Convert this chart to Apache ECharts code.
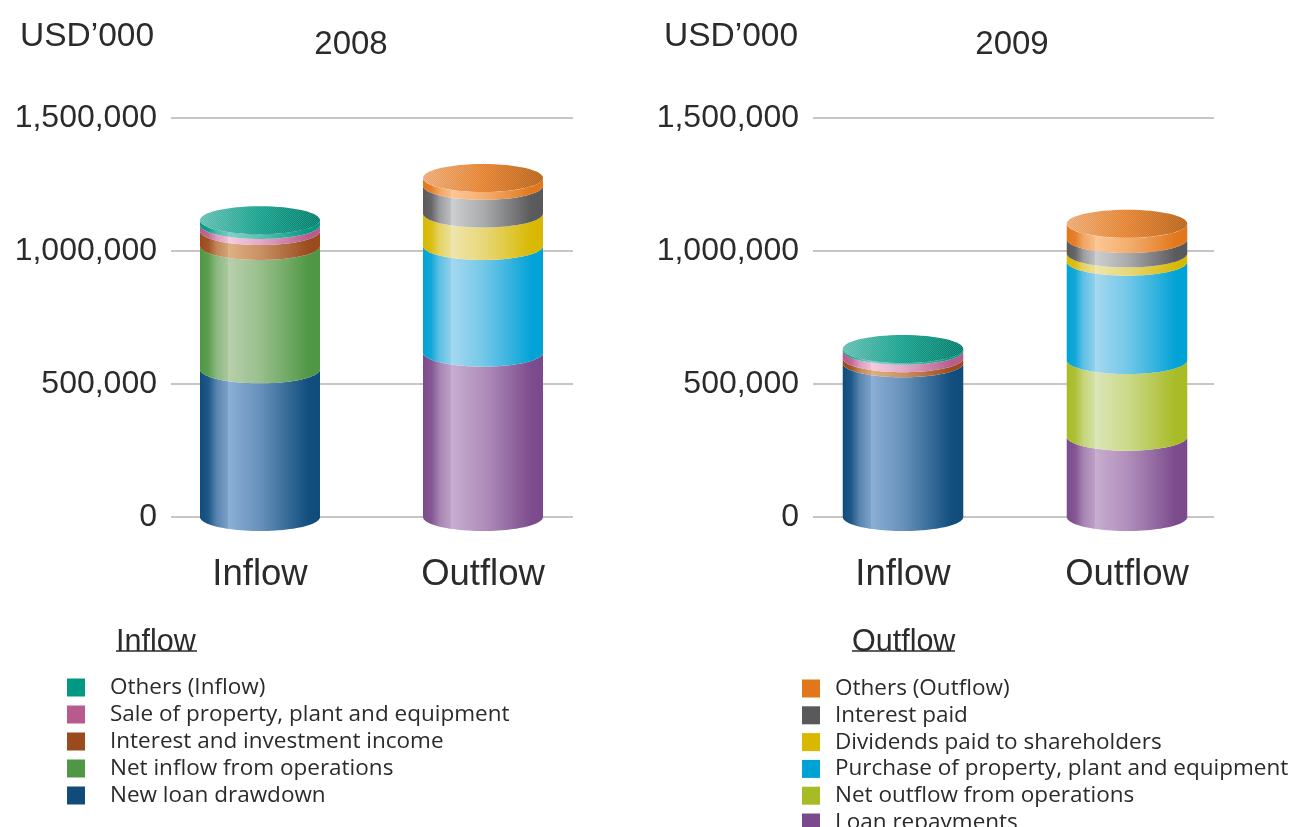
<!DOCTYPE html>
<html>
<head>
<meta charset="utf-8">
<style>html,body{margin:0;padding:0;background:#fff}#chart{width:1294px;height:827px}</style>
<script src="https://cdn.jsdelivr.net/npm/echarts@6/dist/echarts.min.js"></script>
</head>
<body>
<div id="chart"></div>
<script>
// Cash flow by year, in USD'000
const flowCategories = ['Inflow', 'Outflow'];
const years = ['2008', '2009'];
const inflowNames = ['New loan drawdown', 'Net inflow from operations', 'Interest and investment income', 'Sale of property, plant and equipment', 'Others (Inflow)'];
const outflowNames = ['Loan repayments', 'Net outflow from operations', 'Purchase of property, plant and equipment', 'Dividends paid to shareholders', 'Interest paid', 'Others (Outflow)'];
const inflowColors = ['#0f4c7c', '#4f9744', '#9a4a1c', '#b85a8c', '#009882'];
const outflowColors = ['#7b4a8c', '#a8bb24', '#00a2d6', '#d8b800', '#59595b', '#e2761b'];
const inflowLights = ['#8cafd6', '#b8d0ac', '#ddb184', '#f7cce2', '#86d0c5'];
const outflowLights = ['#c8aed0', '#dbe7b8', '#a6d8f0', '#efe6ae', '#cdcfd2', '#fcc897'];
const inflow2008 = [555000, 464000, 56000, 23000, 18000];
const outflow2008 = [618000, 0, 401000, 122000, 104000, 29000];
const inflow2009 = [578000, 0, 19000, 28000, 7000];
const outflow2009 = [302000, 288000, 370000, 31000, 54000, 57000];

const panels = [
  { inflow: inflow2008, outflow: outflow2008, lineLeft: 171, lineWidth: 402, barLeft: 148.5, barWidth: 446, title: 351, unit: 20 },
  { inflow: inflow2009, outflow: outflow2009, lineLeft: 813, lineWidth: 401, barLeft: 791, barWidth: 448, title: 1012, unit: 664 }
];
const plotTop = 118, plotHeight = 399, barRatio = 120 / 223, capRadiusY = 14;
const bigFont = 'Liberation Sans', smallFont = 'Open Sans', ink = '#2b2b2b';

function rgb(hex) {
  const n = parseInt(hex.slice(1), 16);
  return [n >> 16, (n >> 8) & 255, n & 255];
}
function mix(hex, target, t) {
  const a = rgb(hex), b = rgb(target);
  return 'rgb(' + a.map((v, i) => Math.round(v + (b[i] - v) * t)).join(',') + ')';
}
// Lit cylinder side: dark rims, a soft highlight left of centre
function sideFill(color, light) {
  const stops = [[0, 0], [0.07, 0.12], [0.14, 0.58], [0.232, 0.86], [0.238, 1], [0.3, 0.92], [0.5, 0.7], [0.74, 0.3], [0.9, 0.02], [1, 0]];
  return { type: 'linear', x: 0, y: 0, x2: 1, y2: 0, colorStops: stops.map(s => ({ offset: s[0], color: mix(color, light, s[1]) })) };
}
function capFill(color) {
  return { type: 'linear', x: 0, y: 0, x2: 1, y2: 0.25, colorStops: [
    { offset: 0, color: mix(color, '#ffffff', 0.38) },
    { offset: 0.5, color: mix(color, '#ffffff', 0.08) },
    { offset: 1, color: mix(color, '#000000', 0.18) }
  ] };
}
// Fine hatch laid over the cylinder lids
const hatchCanvas = document.createElement('canvas');
hatchCanvas.width = hatchCanvas.height = 2;
(function () {
  const g = hatchCanvas.getContext('2d');
  g.fillStyle = 'rgba(255,255,255,0.14)';
  g.fillRect(0, 0, 1, 1);
  g.fillRect(1, 1, 1, 1);
})();

function renderSegment(color, light) {
  return function (params, api) {
    const cx = api.coord([api.value(0), 0])[0];
    const yBase = api.coord([0, api.value(1)])[1];
    const yTop = api.coord([0, api.value(2)])[1];
    const rx = api.size([1, 0])[0] * barRatio / 2;
    const pts = [];
    const steps = 48;
    for (let i = 0; i <= steps; i++) {
      const a = Math.PI * i / steps;
      pts.push([cx - rx * Math.cos(a), yTop + capRadiusY * Math.sin(a)]);
    }
    for (let i = steps; i >= 0; i--) {
      const a = Math.PI * i / steps;
      pts.push([cx - rx * Math.cos(a), yBase + capRadiusY * Math.sin(a)]);
    }
    const children = [{ type: 'polygon', shape: { points: pts }, style: { fill: sideFill(color, light) } }];
    if (api.value(3) === 1) {
      const lid = { cx: cx, cy: yTop, rx: rx, ry: capRadiusY };
      children.push({ type: 'ellipse', shape: lid, style: { fill: capFill(color) } });
      children.push({ type: 'ellipse', shape: lid, style: { fill: { image: hatchCanvas, repeat: 'repeat' } } });
    }
    return { type: 'group', children: children };
  };
}

const grid = [], xAxis = [], yAxis = [], series = [], title = [];
panels.forEach((p, i) => {
  const lineGrid = i * 2, barGrid = i * 2 + 1;
  grid.push({ left: p.lineLeft, width: p.lineWidth, top: plotTop, height: plotHeight });
  grid.push({ left: p.barLeft, width: p.barWidth, top: plotTop, height: plotHeight });
  xAxis.push({ gridIndex: lineGrid, type: 'category', data: flowCategories, show: false });
  xAxis.push({
    gridIndex: barGrid, type: 'category', data: flowCategories,
    axisLine: { show: false }, axisTick: { show: false },
    axisLabel: { fontFamily: bigFont, fontSize: 36.5, color: ink, margin: 39 }
  });
  yAxis.push({
    gridIndex: lineGrid, type: 'value', min: 0, max: 1500000, interval: 500000,
    axisLine: { show: false }, axisTick: { show: false },
    axisLabel: { fontFamily: bigFont, fontSize: 32, color: ink, margin: 14, padding: [4, 0, 0, 0], formatter: v => v.toLocaleString('en-US') },
    splitLine: { lineStyle: { color: '#c6c6c6', width: 2 } }
  });
  yAxis.push({ gridIndex: barGrid, type: 'value', min: 0, max: 1500000, show: false });
  [[p.inflow, inflowNames, inflowColors, inflowLights, 0], [p.outflow, outflowNames, outflowColors, outflowLights, 1]].forEach(set => {
    const values = set[0];
    const topIndex = values.reduce((last, v, k) => (v > 0 ? k : last), 0);
    let base = 0;
    values.forEach((v, k) => {
      const color = set[2][k];
      series.push({
        type: 'custom', name: set[1][k], xAxisIndex: barGrid, yAxisIndex: barGrid,
        itemStyle: { color: color }, z: 3, silent: true,
        encode: { x: 0, y: 2 },
        renderItem: renderSegment(color, set[3][k]),
        data: v > 0 ? [[set[4], base, base + v, k === topIndex ? 1 : 0]] : []
      });
      base += v;
    });
  });
  title.push({ text: 'USD\u2019000', left: p.unit, top: 20, padding: 0, textStyle: { fontFamily: bigFont, fontSize: 33.5, fontWeight: 'normal', color: ink } });
  title.push({ text: years[i], left: p.title, top: 28, padding: 0, textAlign: 'center', textStyle: { fontFamily: bigFont, fontSize: 33, fontWeight: 'normal', color: ink } });
});
title.push({ text: 'Inflow', left: 116, top: 627, padding: 0, textStyle: { fontFamily: bigFont, fontSize: 30.5, fontWeight: 'normal', color: ink } });
title.push({ text: 'Outflow', left: 852, top: 627, padding: 0, textStyle: { fontFamily: bigFont, fontSize: 30.5, fontWeight: 'normal', color: ink } });

function legendOf(names, left, top, gap, textGap) {
  return {
    orient: 'vertical', left: left, top: top, height: 220, padding: 0,
    icon: 'rect', itemWidth: 18, itemHeight: 18, itemGap: gap,
    selectedMode: false, data: names.slice().reverse(),
    textStyle: { fontFamily: smallFont, fontSize: 22.5, color: ink, lineHeight: 18, padding: [0, 0, 0, textGap] }
  };
}

const chart = echarts.init(document.getElementById('chart'), null, { renderer: 'canvas' });
chart.setOption({
  animation: false, backgroundColor: '#fff',
  title: title, grid: grid, xAxis: xAxis, yAxis: yAxis, series: series,
  legend: [legendOf(inflowNames, 67, 676, 4, 20), legendOf(outflowNames, 802, 677, 3.8, 10)],
  graphic: [
    { type: 'line', shape: { x1: 116, y1: 651, x2: 197, y2: 651 }, style: { stroke: ink, lineWidth: 1.5 } },
    { type: 'line', shape: { x1: 852, y1: 651, x2: 955, y2: 651 }, style: { stroke: ink, lineWidth: 1.5 } }
  ]
});
</script>
</body>
</html>
